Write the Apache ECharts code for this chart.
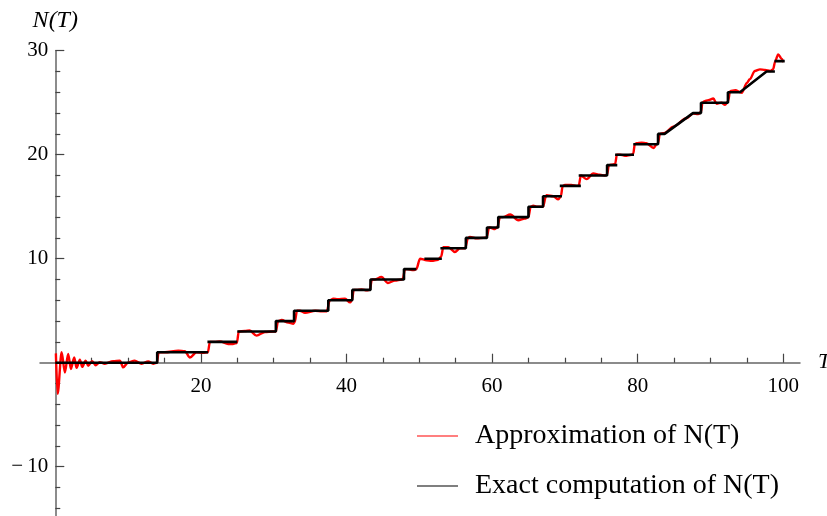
<!DOCTYPE html>
<html>
<head>
<meta charset="utf-8">
<script src="https://cdn.jsdelivr.net/npm/echarts@6/dist/echarts.min.js"></script>
<style>
html, body { margin: 0; padding: 0; background: #fff; }
#panel { width: 827px; height: 516px; }
</style>
</head>
<body>
<div id="panel"></div>
<script>
// approximation of N(T) as [T, N]
var approxPoints = [
    [0.08, 0.9], [0.32, -3.0], [0.87, 1.0], [1.32, -0.95], [1.77, 0.85], [2.14, -0.6], [2.6, 0.5], [2.93, -0.5],
    [3.38, 0.3], [3.7, -0.4], [4.16, 0.2], [4.52, -0.3], [5.07, 0.15], [5.54, -0.25],
    [6.1, 0.05], [6.8, -0.1], [7.95, 0.15], [8.87, 0.2], [9.33, -0.45], [9.97, 0.0], [10.9, 0.2], [11.86, -0.1],
    [12.76, 0.13], [13.45, -0.1], [13.95, 0.0], [14.2, 1.0],
    [15.05, 1.0], [16.9, 1.16], [17.8, 1.1], [18.5, 0.5], [19.4, 1.0], [20.3, 0.95], [20.96, 1.0], [21.24, 2.0],
    [21.9, 2.0], [22.6, 2.05], [23.75, 1.8], [24.4, 1.8], [24.95, 1.9], [25.2, 3.0],
    [26.05, 3.05], [26.7, 3.1], [27.65, 2.6], [28.8, 2.95], [29.9, 3.0], [30.3, 3.0], [30.6, 4.0],
    [31.1, 4.1], [32.0, 3.85], [32.7, 3.75], [32.9, 3.9], [33.2, 5.0],
    [33.6, 5.0], [34.3, 4.8], [35.7, 5.0], [36.6, 4.95], [37.3, 4.95], [37.7, 6.0],
    [38.2, 6.15], [38.8, 6.1], [39.8, 6.15], [40.5, 5.8], [40.75, 6.0], [41.0, 7.0],
    [41.4, 7.0], [42.1, 7.05], [42.8, 6.95], [43.2, 7.0], [43.5, 8.0],
    [43.9, 8.0], [44.8, 8.25], [45.7, 7.67], [46.65, 7.9], [47.6, 8.0], [47.75, 8.1], [48.05, 9.0],
    [48.3, 9.0], [49.2, 8.9], [49.6, 9.0], [50.1, 10.0],
    [51.0, 9.85], [51.7, 9.8], [52.6, 9.9], [53.0, 10.2], [53.3, 11.1],
    [54.0, 11.1], [54.9, 10.65], [55.6, 11.0], [56.3, 11.0], [56.7, 12.0],
    [56.95, 12.1], [57.9, 11.95], [58.8, 12.0], [59.25, 12.05], [59.6, 13.0],
    [59.7, 13.0], [60.4, 12.85], [60.7, 13.0], [61.1, 14.0],
    [61.5, 14.0], [62.5, 14.25], [63.6, 13.7], [64.5, 13.85], [65.0, 14.0], [65.3, 15.0],
    [65.65, 15.1], [66.1, 15.0], [66.6, 15.0], [67.0, 15.0], [67.4, 16.0],
    [67.5, 16.1], [68.4, 16.0], [69.1, 15.7], [69.45, 16.0], [69.7, 17.0],
    [70.0, 17.1], [70.9, 17.1], [71.6, 17.0], [71.9, 17.0], [72.2, 18.0],
    [73.0, 17.65], [73.9, 18.2], [74.8, 18.07], [75.5, 18.0], [75.8, 18.1], [76.05, 19.0],
    [76.4, 19.05], [76.9, 19.1], [77.15, 20.0],
    [77.6, 20.0], [78.25, 19.9], [79.2, 20.0], [79.4, 20.1], [79.6, 21.0],
    [79.85, 21.1], [80.55, 21.15], [81.2, 21.1], [82.2, 20.65], [82.6, 21.0], [82.8, 21.1], [83.05, 22.0],
    [83.7, 22.1], [84.9, 22.7], [86.7, 23.5], [87.6, 23.95], [88.3, 23.9], [88.7, 24.1], [88.9, 25.0],
    [89.2, 25.15], [89.7, 25.25], [90.4, 25.4], [90.85, 24.9], [91.5, 25.0], [92.0, 24.8], [92.4, 25.1], [92.7, 26.1],
    [93.4, 26.2], [94.3, 25.95], [95.0, 26.9], [95.4, 27.25], [96.1, 28.05], [96.8, 28.2], [97.5, 28.15],
    [98.2, 28.05], [98.6, 28.2], [98.9, 29.0], [99.3, 29.65], [99.8, 29.2], [100.0, 28.9]
];

// exact computation of N(T); null = gap in the plotted line
var exactPoints = [
    [0, 0], [14.0, 0], [14.0, 1], [21.0, 1], null,
    [20.9, 2], [25.0, 2], null,
    [25.0, 3], [30.3, 3], [30.3, 4], [32.8, 4], [32.8, 5], [37.5, 5], [37.5, 6], [40.8, 6], [40.8, 7],
    [43.3, 7], [43.3, 8], [47.9, 8], [47.9, 9], [49.6, 9], null,
    [50.7, 10], [53.1, 10], null,
    [52.9, 11], [56.4, 11], [56.4, 12], [59.3, 12], [59.3, 13], [60.85, 13], [60.85, 14], [65.0, 14],
    [65.0, 15], [67.0, 15], [67.0, 16], [69.6, 16], null,
    [69.3, 17], [72.2, 17], null,
    [71.9, 18], [75.8, 18], [75.8, 19], [77.2, 19], null,
    [76.9, 20], [79.5, 20], null,
    [79.4, 21], [82.8, 21], [82.8, 22], [83.7, 22], [87.6, 24], [88.7, 24], [88.7, 25], [92.4, 25],
    [92.4, 26], [94.05, 26], [97.7, 28], [98.85, 28], null,
    [98.8, 29], [100.2, 29]
];

var xMajorTicks = [20, 40, 60, 80, 100];
var xMinorTicks = [5, 10, 15, 25, 30, 35, 45, 50, 55, 65, 70, 75, 85, 90, 95];
var seriesNames = ['Approximation of N(T)', 'Exact computation of N(T)'];

var serif = 'Liberation Serif';
var axisGrey = '#666';
var tickStyle = { color: '#444', width: 1.2 };

// plot box: T from -2.1 to 102.3 across 760px, N from -20 to 30 over 520px
var X0 = 40, W = 760, TOP = 50.7, H = 520;
var TMIN = -2.1, TMAX = 102.3;
var zeroX = X0 + (0 - TMIN) / (TMAX - TMIN) * W;   // where the N axis sits
var zeroH = H * 30 / 50;                           // height from N=30 down to N=0

function fmtY(v)
{
    if (v === 0) return '';
    if (v < 0) return '\u2212\u2009' + (-v);
    return '' + v;
}

function hiddenAxis(grid, min, max)
{
    return { type: 'value', gridIndex: grid, min: min, max: max, show: false };
}

var myChart = echarts.init(document.getElementById('panel'));
myChart.setOption({
    backgroundColor: '#fff',
    animation: false,
    grid: [
        // 0: data
        { left: X0, top: TOP, width: W, height: H, outerBoundsMode: 'none' },
        // 1: T axis (major ticks + labels), bottom edge on N = 0
        { left: X0, top: TOP, width: W, height: zeroH, outerBoundsMode: 'none' },
        // 2: T axis minor ticks
        { left: X0, top: TOP, width: W, height: zeroH, outerBoundsMode: 'none' },
        // 3: N axis, left edge on T = 0
        { left: zeroX, top: TOP, width: X0 + W - zeroX, height: H, outerBoundsMode: 'none' }
    ],
    legend: {
        data: seriesNames,
        orient: 'vertical',
        left: 417,
        top: 422,
        padding: 0,
        icon: 'rect',
        itemWidth: 41,
        itemHeight: 1.2,
        itemGap: 22,
        textStyle: { fontFamily: serif, fontSize: 28, color: '#000', padding: [0, 0, 0, 12] }
    },
    xAxis: [
        hiddenAxis(0, TMIN, TMAX),
        {
            type: 'value', gridIndex: 1, min: TMIN, max: TMAX, position: 'bottom',
            name: 'T', nameLocation: 'end', nameGap: 18,
            nameTextStyle: { fontFamily: serif, fontStyle: 'italic', fontSize: 22, color: '#000' },
            axisLine: { onZero: false, lineStyle: { color: axisGrey, width: 1.5 } },
            axisTick: { inside: true, length: 9, customValues: xMajorTicks, lineStyle: tickStyle },
            axisLabel: { customValues: xMajorTicks, margin: 13, fontFamily: serif, fontSize: 21, color: '#000' },
            splitLine: { show: false }
        },
        {
            type: 'value', gridIndex: 2, min: TMIN, max: TMAX, position: 'bottom',
            axisLine: { show: false, onZero: false },
            axisTick: { inside: true, length: 5, customValues: xMinorTicks, lineStyle: tickStyle },
            axisLabel: { show: false },
            splitLine: { show: false }
        },
        hiddenAxis(3, 0, 1)
    ],
    yAxis: [
        hiddenAxis(0, -20, 30),
        hiddenAxis(1, 0, 30),
        hiddenAxis(2, 0, 30),
        {
            type: 'value', gridIndex: 3, min: -20, max: 30, interval: 10, position: 'left',
            name: 'N(T)', nameLocation: 'end', nameGap: 18,
            nameTextStyle: { fontFamily: serif, fontStyle: 'italic', fontSize: 24, color: '#000' },
            axisLine: { onZero: false, lineStyle: { color: axisGrey, width: 1.5 } },
            axisTick: { inside: true, length: 9, lineStyle: tickStyle },
            minorTick: { show: true, splitNumber: 5, length: 5, lineStyle: tickStyle },
            axisLabel: { formatter: fmtY, margin: 7, fontFamily: serif, fontSize: 21, color: '#000' },
            splitLine: { show: false }
        }
    ],
    series: [
        {
            name: seriesNames[0],
            type: 'line',
            xAxisIndex: 0, yAxisIndex: 0,
            data: approxPoints,
            symbol: 'none',
            smooth: 0.3,
            smoothMonotone: 'x',
            lineStyle: { color: '#ff0000', width: 2.4 },
            itemStyle: { color: '#ff0000' }
        },
        {
            name: seriesNames[1],
            type: 'line',
            xAxisIndex: 0, yAxisIndex: 0,
            data: exactPoints.map(function (p) { return p ? p : ['-', '-']; }),
            symbol: 'none',
            connectNulls: false,
            lineStyle: { color: '#000', width: 2.6 },
            itemStyle: { color: '#000' }
        }
    ]
});
</script>
</body>
</html>
